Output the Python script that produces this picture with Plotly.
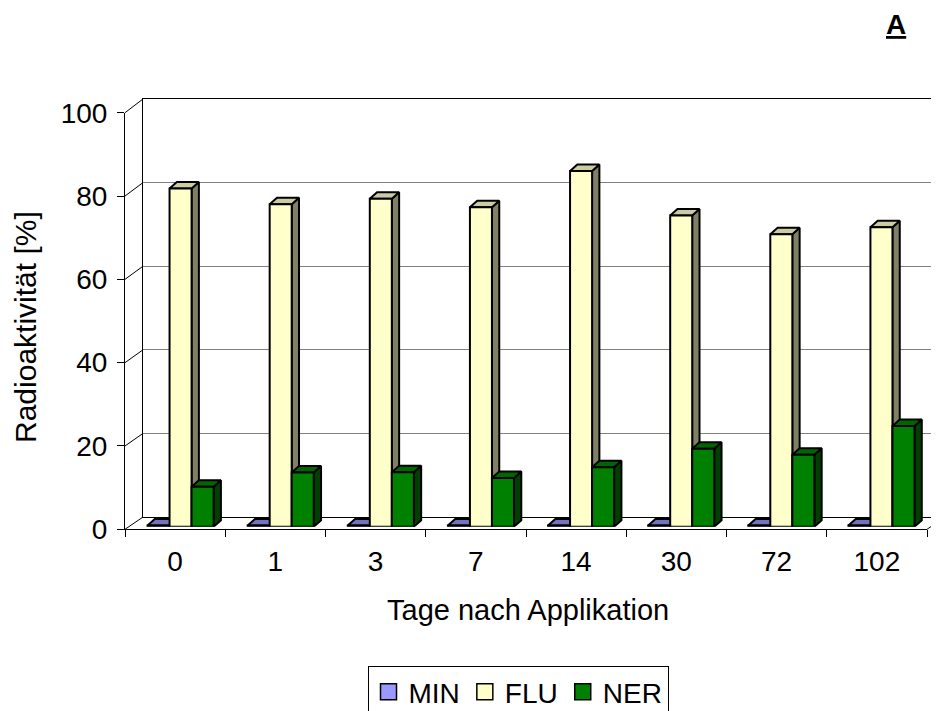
import plotly.graph_objects as go

# ---------------- data ----------------
days = ["0", "1", "3", "7", "14", "30", "72", "102"]
series_names = ["MIN", "FLU", "NER"]
min_vals = [0.3, 0.3, 0.3, 0.3, 0.3, 0.3, 0.3, 0.3]
flu_vals = [81.2, 77.4, 78.7, 76.7, 85.4, 74.7, 70.2, 71.9]
ner_vals = [9.6, 13.0, 13.1, 11.7, 14.3, 18.7, 17.3, 24.2]
y_ticks = [0, 20, 40, 60, 80, 100]

# ---------------- style ----------------
W, H = 939, 711
OFF = 8  # page body margin
FONT = "Liberation Sans, Arial, sans-serif"
front_col = {"MIN": "#9999FF", "FLU": "#FFFFCC", "NER": "#008000"}
side_col = {"MIN": "#4D4D80", "FLU": "#808066", "NER": "#004000"}
top_col = {"MIN": "#7373BF", "FLU": "#CCCCA3", "NER": "#006600"}
bar_w = 0.22
offsets = {"MIN": -0.31, "FLU": -0.09, "NER": 0.13}
DX, DY = 0.073, 1.56  # 3D depth in data units


def px_x(p):
    return (p - OFF) / W


def px_y(p):
    return (H - (p - OFF)) / H


# pixel geometry (screen pixels) of the three planes
front_x = (125, 927)
front_y = (529.3, 112.7)      # y pixel of 0 and 100
back_x = (143, 947)
back_y = (517.0, 99.0)
bar_x = (128.5, 929.5)
bar_y = (526.7, 110.1)

values = {"MIN": min_vals, "FLU": flu_vals, "NER": ner_vals}
idx = list(range(len(days)))

fig = go.Figure()

# back wall subplot (gridlines)
fig.add_trace(go.Scatter(x=[None], y=[None], xaxis="x", yaxis="y",
                         showlegend=False, hoverinfo="skip"))

# 3D side/top faces computed from the data values
for name in series_names:
    vals = values[name]
    sx, sy, tx, ty = [], [], [], []
    for i, v in zip(idx, vals):
        x0 = i + offsets[name]
        x1 = x0 + bar_w
        sx += [x1, x1 + DX, x1 + DX, x1, x1, None]
        sy += [0, DY, v + DY, v, 0, None]
        tx += [x0, x0 + DX, x1 + DX, x1, x0, None]
        ty += [v, v + DY, v + DY, v, v, None]
    fig.add_trace(go.Scatter(x=sx, y=sy, xaxis="x2", yaxis="y2", mode="lines",
                             fill="toself", fillcolor=side_col[name],
                             line=dict(color="black", width=2),
                             showlegend=False, hoverinfo="skip"))
    fig.add_trace(go.Scatter(x=tx, y=ty, xaxis="x2", yaxis="y2", mode="lines",
                             fill="toself", fillcolor=top_col[name],
                             line=dict(color="black", width=2),
                             showlegend=False, hoverinfo="skip"))

# front faces: real bars
for name in series_names:
    fig.add_trace(go.Bar(
        x=idx, y=values[name], name=name, xaxis="x3", yaxis="y3",
        width=bar_w, offset=offsets[name], showlegend=False,
        marker=dict(color=front_col[name], line=dict(color="black", width=2)),
    ))

# legend entries (square swatches)
for name in series_names:
    fig.add_trace(go.Scatter(
        x=[None], y=[None], name=name, mode="markers", xaxis="x4", yaxis="y4",
        marker=dict(symbol="square", size=18, color=front_col[name],
                    line=dict(color="black", width=1.5)),
    ))

# front axes subplot (ticks and labels)
fig.add_trace(go.Scatter(x=[None], y=[None], xaxis="x4", yaxis="y4",
                         showlegend=False, hoverinfo="skip"))

hidden = dict(visible=False, fixedrange=True)

fig.update_layout(
    width=W, height=H,
    margin=dict(l=0, r=0, t=0, b=0, pad=0, autoexpand=False),
    paper_bgcolor="white", plot_bgcolor="rgba(0,0,0,0)",
    font=dict(family=FONT, size=28, color="black"),
    barmode="overlay",
    showlegend=True,
    # back wall
    xaxis=dict(domain=[px_x(back_x[0]), 1.0], range=[0, 1], showgrid=False,
               zeroline=False, showticklabels=False, ticks="",
               showline=True, mirror=True, linecolor="black", linewidth=1,
               anchor="y", fixedrange=True),
    yaxis=dict(domain=[px_y(back_y[0]), px_y(back_y[1])], range=[0, 100],
               tickvals=y_ticks, showticklabels=False, ticks="",
               showgrid=True, gridcolor="#808080", gridwidth=1,
               zeroline=False, showline=True, linecolor="black", linewidth=1,
               anchor="x", fixedrange=True),
    # faces
    xaxis2=dict(domain=[px_x(bar_x[0]), px_x(bar_x[1])], range=[-0.5, 7.5],
                anchor="y2", **hidden),
    yaxis2=dict(domain=[px_y(bar_y[0]), px_y(bar_y[1])], range=[0, 100],
                anchor="x2", **hidden),
    # bars overlay
    xaxis3=dict(overlaying="x2", range=[-0.5, 7.5], anchor="y3", **hidden),
    yaxis3=dict(overlaying="y2", range=[0, 100], anchor="x3", **hidden),
    # front axes
    xaxis4=dict(domain=[px_x(front_x[0]), px_x(front_x[1])], range=[-0.5, 7.5],
                tickvals=idx, ticktext=days, ticks="", showgrid=False,
                zeroline=False, showline=True, linecolor="black", linewidth=1,
                tickfont=dict(size=28), ticklabelstandoff=7,
                minor=dict(tickmode="array",
                           tickvals=[i - 0.5 for i in range(len(days) + 1)],
                           ticks="outside", ticklen=7, tickcolor="black",
                           tickwidth=1, showgrid=False),
                anchor="y4", fixedrange=True),
    yaxis4=dict(domain=[px_y(front_y[0]), px_y(front_y[1])], range=[0, 100],
                tickvals=y_ticks, ticks="outside", ticklen=7, tickcolor="black",
                showgrid=False, zeroline=False, showline=True,
                linecolor="black", linewidth=1, tickfont=dict(size=28),
                ticklabelstandoff=4, anchor="x4", fixedrange=True),
    legend=dict(orientation="h", x=px_x(518), xanchor="center",
                y=px_y(666), yanchor="top", bordercolor="black", borderwidth=1,
                font=dict(size=28), traceorder="normal",
                bgcolor="white", itemwidth=30),
)

# diagonal connectors between front axis and back wall
shapes = []
for v in y_ticks:
    yf = front_y[0] + (front_y[1] - front_y[0]) * v / 100
    yb = back_y[0] + (back_y[1] - back_y[0]) * v / 100
    shapes.append(dict(type="line", xref="paper", yref="paper",
                       x0=px_x(front_x[0]), y0=px_y(yf),
                       x1=px_x(back_x[0]), y1=px_y(yb),
                       line=dict(color="black", width=1)))
# right floor edge
shapes.append(dict(type="line", xref="paper", yref="paper",
                   x0=px_x(front_x[1]), y0=px_y(front_y[0]),
                   x1=px_x(front_x[1] + 18), y1=px_y(back_y[0]),
                   line=dict(color="black", width=1)))
fig.update_layout(shapes=shapes)

fig.add_annotation(text="Radioaktivität [%]", xref="paper", yref="paper",
                   x=px_x(25), y=px_y(327), textangle=-90, showarrow=False,
                   font=dict(size=30), xanchor="center", yanchor="middle")
fig.add_annotation(text="Tage nach Applikation", xref="paper", yref="paper",
                   x=px_x(528), y=px_y(610), showarrow=False,
                   font=dict(size=29), xanchor="center", yanchor="middle")
fig.add_annotation(text="<b><u>A</u></b>", xref="paper", yref="paper",
                   x=px_x(896), y=px_y(24), showarrow=False,
                   font=dict(size=28), xanchor="center", yanchor="middle")

fig.write_html("out.html")
